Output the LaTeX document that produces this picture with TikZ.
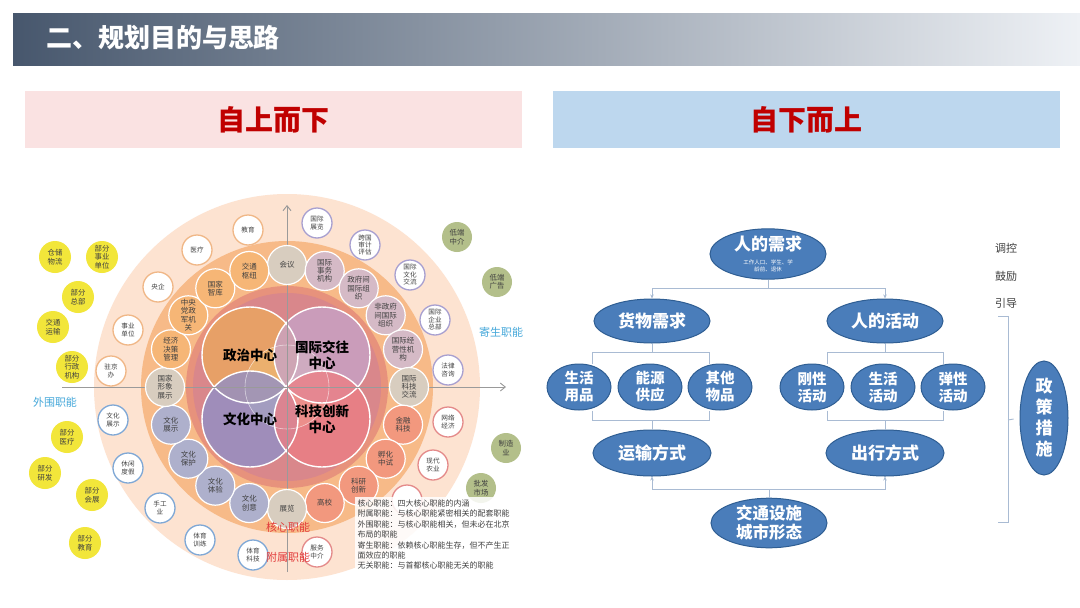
\documentclass[tikz,border=0pt]{standalone}
\usepackage{fontspec}
\setmainfont{Noto Sans CJK SC}
\usetikzlibrary{shapes.geometric,arrows.meta}
\definecolor{hdrdark}{HTML}{47576D}
\definecolor{hdrmid}{HTML}{A9B5C4}
\definecolor{hdrlight}{HTML}{EEF1F5}
\definecolor{pinkbg}{HTML}{FAE2E2}
\definecolor{bluebg}{HTML}{BDD7EE}
\definecolor{titlered}{HTML}{C00000}
\definecolor{peach}{HTML}{FDE3D1}
\definecolor{band}{HTML}{F7BA88}
\definecolor{bandtwo}{HTML}{E7927C}
\definecolor{rose}{HTML}{D9878B}
\definecolor{cpol}{HTML}{EBA85E}
\definecolor{cint}{HTML}{C7A2C8}
\definecolor{ccul}{HTML}{8F8FC8}
\definecolor{csci}{HTML}{EC7E84}
\definecolor{cmid}{HTML}{F3E1AE}
\definecolor{sorange}{HTML}{F6B676}
\definecolor{sbeige}{HTML}{D8CDBF}
\definecolor{sblue}{HTML}{AEB0CC}
\definecolor{ssalmon}{HTML}{F2987E}
\definecolor{smauve}{HTML}{D5BAC6}
\definecolor{bdorange}{HTML}{F0B787}
\definecolor{bdblue}{HTML}{7FA8D6}
\definecolor{bdred}{HTML}{E48A8A}
\definecolor{bdpurple}{HTML}{A8A0D0}
\definecolor{yel}{HTML}{F2E63A}
\definecolor{sage}{HTML}{B3BF8A}
\definecolor{lblue}{HTML}{45A8DA}
\definecolor{lred}{HTML}{E23B3B}
\definecolor{fblue}{HTML}{4A7DBA}
\definecolor{fborder}{HTML}{2F5E93}
\definecolor{connc}{HTML}{A9BBD3}
\definecolor{txt}{HTML}{404040}
\definecolor{axisc}{HTML}{9A9A9A}
\tikzset{
  core/.style={circle, draw=white, line width=1.2pt, minimum size=39pt, inner sep=0pt, align=center, font=\fontsize{7.5}{8.3}\selectfont, text=txt},
  aux/.style={circle, fill=white, line width=1.3pt, minimum size=30pt, inner sep=0pt, align=center, font=\fontsize{6.6}{7.4}\selectfont, text=txt},
  outc/.style={circle, minimum size=32pt, inner sep=0pt, align=center, font=\fontsize{7.4}{8.4}\selectfont, text=txt},
  bigtxt/.style={font=\bfseries\fontsize{13.5}{16}\selectfont, align=center, text=black},
  flow/.style={ellipse, fill=fblue, draw=fborder, line width=1pt, text=white, font=\bfseries\fontsize{17}{19}\selectfont, align=center, inner sep=0pt},
  cn/.style={draw=connc, line width=0.9pt},
  ar/.style={cn, -{Stealth[length=4pt,width=3.5pt]}},
  axis/.style={draw=axisc, line width=0.9pt, -{Straight Barb[length=5pt,width=8pt]}},
  fnlabel/.style={font=\fontsize{11}{12}\selectfont},
}
\newcommand{\subtiny}{\mdseries\fontsize{5.5}{6.5}\selectfont}
\begin{document}
\begin{tikzpicture}[x=1pt,y=-1pt]
\useasboundingbox (0,0) rectangle (1080,608);
\fill[white] (0,0) rectangle (1080,608);
% header
\shade[left color=hdrdark, middle color=hdrmid, right color=hdrlight] (13,13) rectangle (1080,65);
\node[text=white, font=\bfseries\fontsize{26}{28}\selectfont] (title) at (163,38) {二、规划目的与思路};
% panel headers
\node[fill=pinkbg, minimum width=497pt, minimum height=57pt, inner sep=0pt, text=titlered, font=\bfseries\fontsize{28}{30}\selectfont] (lhead) at (273.5,119.5) {自上而下};
\node[fill=bluebg, minimum width=507pt, minimum height=57pt, inner sep=0pt, text=titlered, font=\bfseries\fontsize{28}{30}\selectfont] (rhead) at (806.5,119.5) {自下而上};

% ===== left circular diagram =====
\coordinate (O) at (287,387);
\fill[peach] (O) circle (193pt);
\fill[band] (O) circle (146pt);
\fill[bandtwo] (O) circle (101pt);
\fill[rose] (O) circle (94pt);
\fill[cmid, opacity=0.8] (O) circle (42pt);
\node[circle, minimum size=96pt, fill=cpol, fill opacity=0.78] (pol) at (250,355) {};
\node[circle, minimum size=96pt, fill=cint, fill opacity=0.78] (int) at (322,355) {};
\node[circle, minimum size=96pt, fill=ccul, fill opacity=0.78] (cul) at (250,419) {};
\node[circle, minimum size=96pt, fill=csci, fill opacity=0.78] (sci) at (322,419) {};
\foreach \n in {pol,int,cul,sci} \draw[white, line width=1.4pt] (\n.center) circle (48pt);
\draw[white, line width=0.6pt, opacity=0.6] (O) circle (42pt);
% axes
\coordinate (axl) at (62,387);
\coordinate (axr) at (506,387);
\coordinate (axb) at (287,572);
\coordinate (axt) at (287,205);
\draw[axis] (axl) -- (axr);
\draw[axis] (axb) -- (axt);
% centre texts
\node[bigtxt] (tpol) at (pol.center) {政治中心};
\node[bigtxt] (tint) at (int.center) {国际交往\\中心};
\node[bigtxt] (tcul) at (cul.center) {文化中心};
\node[bigtxt] (tsci) at (sci.center) {科技创新\\中心};

% core ring
\node[core, fill=sbeige] (k1) at ([shift={(90:122pt)}]O) {会议};
\node[core, fill=smauve] (k2) at ([shift={(72:122pt)}]O) {国际\\事务\\机构};
\node[core, fill=smauve] (k3) at ([shift={(54:122pt)}]O) {政府间\\国际组\\织};
\node[core, fill=smauve] (k4) at ([shift={(36:122pt)}]O) {非政府\\间国际\\组织};
\node[core, fill=smauve] (k5) at ([shift={(18:122pt)}]O) {国际经\\营性机\\构};
\node[core, fill=sbeige] (k6) at ([shift={(0:122pt)}]O) {国际\\科技\\交流};
\node[core, fill=ssalmon] (k7) at ([shift={(-18:122pt)}]O) {金融\\科技};
\node[core, fill=ssalmon] (k8) at ([shift={(-36:122pt)}]O) {孵化\\中试};
\node[core, fill=ssalmon] (k9) at ([shift={(-54:122pt)}]O) {科研\\创新};
\node[core, fill=ssalmon] (k10) at ([shift={(-72:122pt)}]O) {高校};
\node[core, fill=sbeige] (k11) at ([shift={(-90:122pt)}]O) {展览};
\node[core, fill=sblue] (k12) at ([shift={(-108:122pt)}]O) {文化\\创意};
\node[core, fill=sblue] (k13) at ([shift={(-126:122pt)}]O) {文化\\体验};
\node[core, fill=sblue] (k14) at ([shift={(-144:122pt)}]O) {文化\\保护};
\node[core, fill=sblue] (k15) at ([shift={(-162:122pt)}]O) {文化\\展示};
\node[core, fill=sbeige] (k16) at ([shift={(180:122pt)}]O) {国家\\形象\\展示};
\node[core, fill=sorange] (k17) at ([shift={(162:122pt)}]O) {经济\\决策\\管理};
\node[core, fill=sorange] (k18) at ([shift={(144:122pt)}]O) {中央\\党政\\军机\\关};
\node[core, fill=sorange] (k19) at ([shift={(126:122pt)}]O) {国家\\智库};
\node[core, fill=sorange] (k20) at ([shift={(108:122pt)}]O) {交通\\枢纽};

% auxiliary ring (white circles)
\node[aux, draw=bdorange] (a1) at (248,230) {教育};
\node[aux, draw=bdorange] (a2) at (197,250) {医疗};
\node[aux, draw=bdorange] (a3) at (158,287) {央企};
\node[aux, draw=bdorange] (a4) at (128,330) {事业\\单位};
\node[aux, draw=bdorange] (a5) at (111,371) {驻京\\办};
\node[aux, draw=bdblue] (a6) at (113,420) {文化\\展示};
\node[aux, draw=bdblue] (a7) at (128,468) {休闲\\度假};
\node[aux, draw=bdblue] (a8) at (160,508) {手工\\业};
\node[aux, draw=bdblue] (a9) at (200,540) {体育\\训练};
\node[aux, draw=bdblue] (a10) at (253,555) {体育\\科技};
\node[aux, draw=bdred] (a11) at (317,552) {服务\\中介};
\node[aux, draw=bdred] (a12) at (407,500) {};
\node[aux, draw=bdred] (a13) at (433,465) {现代\\农业};
\node[aux, draw=bdred] (a14) at (448,422) {网络\\经济};
\node[aux, draw=bdpurple] (a15) at (448,370) {法律\\咨询};
\node[aux, draw=bdpurple] (a16) at (435,320) {国际\\企业\\总部};
\node[aux, draw=bdpurple] (a17) at (410,275) {国际\\文化\\交流};
\node[aux, draw=bdpurple] (a18) at (365,245) {跨国\\审计\\评估};
\node[aux, draw=bdpurple] (a19) at (317,223) {国际\\展览};

% outer yellow (peripheral)
\node[outc, fill=yel] (y1) at (55,257) {仓储\\物流};
\node[outc, fill=yel] (y2) at (102,257) {部分\\事业\\单位};
\node[outc, fill=yel] (y3) at (78,297) {部分\\总部};
\node[outc, fill=yel] (y4) at (53,327) {交通\\运输};
\node[outc, fill=yel] (y5) at (72,367) {部分\\行政\\机构};
\node[outc, fill=yel] (y6) at (67,437) {部分\\医疗};
\node[outc, fill=yel] (y7) at (45,473) {部分\\研发};
\node[outc, fill=yel] (y8) at (92,495) {部分\\会展};
\node[outc, fill=yel] (y9) at (85,543) {部分\\教育};
% outer green (parasitic)
\node[outc, fill=sage, minimum size=30pt] (g1) at (457,237) {低端\\中介};
\node[outc, fill=sage, minimum size=30pt] (g2) at (497,282) {低端\\广告};
\node[outc, fill=sage, minimum size=30pt] (g3) at (506,448) {制造\\业};
\node[outc, fill=sage, minimum size=30pt] (g4) at (481,488) {批发\\市场};

% labels
\node[fnlabel, text=lblue] (lw) at (55,402) {外围职能};
\node[fnlabel, text=lblue] (lj) at (501,332) {寄生职能};
\node[fnlabel, text=lred] (lh) at (288,527) {核心职能};
\node[fnlabel, text=lred] (lf) at (288,557) {附属职能};

% legend
\node[anchor=north west, align=left, text width=172pt, inner sep=2.5pt, fill=white, fill opacity=0.85, text opacity=1, text=txt, font=\fontsize{8}{10.4}\selectfont] (legend) at (355,497) {核心职能：四大核心职能的内涵\\附属职能：与核心职能紧密相关的配套职能\\外围职能：与核心职能相关，但未必在北京\\布局的职能\\寄生职能：依赖核心职能生存，但不产生正\\面效应的职能\\无关职能：与首都核心职能无关的职能};

% ===== right flowchart =====
\node[flow, minimum width=116pt, minimum height=44pt] (ren) at (768,254) {人的需求\\[-5pt]{\subtiny 工作人口、学生、学}\\[-12.5pt]{\subtiny 龄前、退休}};
\node[flow, minimum width=116pt, minimum height=44pt] (huo) at (652,321) {货物需求};
\node[flow, minimum width=116pt, minimum height=44pt] (act) at (885,321) {人的活动};
\node[flow, minimum width=64pt, minimum height=46pt, font=\bfseries\fontsize{14.5}{17}\selectfont] (sh) at (579,387) {生活\\用品};
\node[flow, minimum width=64pt, minimum height=46pt, font=\bfseries\fontsize{14.5}{17}\selectfont] (ny) at (650,387) {能源\\供应};
\node[flow, minimum width=64pt, minimum height=46pt, font=\bfseries\fontsize{14.5}{17}\selectfont] (qt) at (720,387) {其他\\物品};
\node[flow, minimum width=64pt, minimum height=46pt, font=\bfseries\fontsize{14.5}{17}\selectfont] (gx) at (812,387) {刚性\\活动};
\node[flow, minimum width=64pt, minimum height=46pt, font=\bfseries\fontsize{14.5}{17}\selectfont] (shd) at (883,387) {生活\\活动};
\node[flow, minimum width=64pt, minimum height=46pt, font=\bfseries\fontsize{14.5}{17}\selectfont] (tx) at (953,387) {弹性\\活动};
\node[flow, minimum width=118pt, minimum height=46pt] (ys) at (652,453) {运输方式};
\node[flow, minimum width=118pt, minimum height=46pt] (cx) at (885,453) {出行方式};
\node[flow, minimum width=116pt, minimum height=48pt, font=\bfseries\fontsize{16.5}{19}\selectfont] (jt) at (769,523) {交通设施\\城市形态};
\node[flow, minimum width=48pt, minimum height=114pt, font=\bfseries\fontsize{17}{21}\selectfont] (zc) at (1044,418) {政\\策\\措\\施};

% connectors
\coordinate (j1) at (768,288);
\draw[cn] (ren.south) -- (j1);
\draw[ar] (j1) -| (huo.north);
\draw[ar] (j1) -| (act.north);

\coordinate (t1) at (652,352);
\coordinate (l1) at (592,352);
\coordinate (r1) at (709,352);
\draw[cn] (huo.south) -- (t1);
\draw[cn] (l1 |- sh.north) -- (l1) -- (r1) -- (r1 |- qt.north);
\coordinate (t2) at (652,420);
\coordinate (l2) at (592,420);
\coordinate (r2) at (709,420);
\draw[cn] (l2 |- sh.south) -- (l2) -- (r2) -- (r2 |- qt.south);
\draw[cn] (t2) -- (ys.north);

\coordinate (t3) at (885,352);
\coordinate (l3) at (827,352);
\coordinate (r3) at (943,352);
\draw[cn] (act.south) -- (t3);
\draw[cn] (l3 |- gx.north) -- (l3) -- (r3) -- (r3 |- tx.north);
\coordinate (t4) at (885,420);
\coordinate (l4) at (827,420);
\coordinate (r4) at (943,420);
\draw[cn] (l4 |- gx.south) -- (l4) -- (r4) -- (r4 |- tx.south);
\draw[cn] (t4) -- (cx.north);

\coordinate (j2) at (769,489);
\draw[cn] (jt.north) -- (j2);
\draw[ar] (j2) -| (ys.south);
\draw[ar] (j2) -| (cx.south);

% policy bracket
\node[font=\fontsize{11}{12}\selectfont, text=txt] (tk) at (1006,248) {调控};
\node[font=\fontsize{11}{12}\selectfont, text=txt] (gl) at (1006,276) {鼓励};
\node[font=\fontsize{11}{12}\selectfont, text=txt] (yd) at (1006,303) {引导};
\coordinate (p1) at (998,316);
\coordinate (p2) at (1008,316);
\coordinate (p3) at (1008,522);
\coordinate (p4) at (998,522);
\coordinate (pm) at (1008,420);
\draw[cn] (p1) -- (p2) -- (p3) -- (p4);
\draw[cn, shorten >=6pt] (pm) -- (zc.west);
\end{tikzpicture}
\end{document}
